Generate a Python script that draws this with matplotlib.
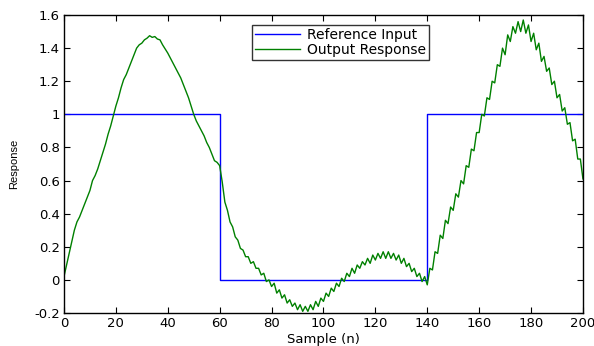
import numpy as np
import matplotlib
matplotlib.use("Agg")
import matplotlib.pyplot as plt

# =========================
# data
# =========================
samples = np.arange(0, 201)

# reference input: square pulse, 1 / 0 / 1
step_x = [0, 60, 60, 140, 140, 200]
step_y = [1, 1, 0, 0, 1, 1]

# output response, one value per sample n = 0..200
response = [
    0.02, 0.09, 0.16, 0.23, 0.30, 0.35, 0.38, 0.42, 0.46, 0.50,   # 0-9
    0.54, 0.60, 0.63, 0.67, 0.72, 0.77, 0.82, 0.88, 0.93, 0.99,   # 10-19
    1.05, 1.10, 1.16, 1.21, 1.24, 1.28, 1.32, 1.36, 1.40, 1.42,   # 20-29
    1.43, 1.45, 1.46, 1.475, 1.465, 1.47, 1.455, 1.45, 1.42, 1.395,  # 30-39
    1.37, 1.34, 1.31, 1.28, 1.25, 1.22, 1.18, 1.14, 1.10, 1.05,   # 40-49
    1.00, 0.96, 0.93, 0.90, 0.87, 0.83, 0.80, 0.76, 0.72, 0.71,   # 50-59
    0.69, 0.59, 0.47, 0.42, 0.35, 0.32, 0.26, 0.24, 0.19, 0.18,   # 60-69
    0.14, 0.14, 0.10, 0.11, 0.07, 0.07, 0.03, 0.04, -0.01, 0.00,  # 70-79
    -0.04, -0.02, -0.08, -0.06, -0.11, -0.09, -0.14, -0.12, -0.16, -0.14,  # 80-89
    -0.18, -0.15, -0.19, -0.16, -0.19, -0.15, -0.18, -0.13, -0.16, -0.11,  # 90-99
    -0.13, -0.08, -0.10, -0.05, -0.07, -0.02, -0.04, 0.01, -0.01, 0.04,   # 100-109
    0.02, 0.07, 0.04, 0.09, 0.07, 0.11, 0.09, 0.13, 0.10, 0.15,   # 110-119
    0.12, 0.16, 0.13, 0.17, 0.13, 0.17, 0.13, 0.16, 0.12, 0.15,   # 120-129
    0.10, 0.13, 0.08, 0.10, 0.05, 0.07, 0.02, 0.04, -0.01, 0.02,  # 130-139
    -0.03, 0.07, 0.06, 0.17, 0.16, 0.27, 0.25, 0.36, 0.34, 0.44,  # 140-149
    0.42, 0.52, 0.50, 0.60, 0.58, 0.69, 0.68, 0.79, 0.78, 0.89,   # 150-159
    0.89, 1.00, 0.99, 1.10, 1.09, 1.20, 1.19, 1.30, 1.29, 1.40,   # 160-169
    1.36, 1.48, 1.44, 1.53, 1.49, 1.56, 1.50, 1.57, 1.49, 1.54,   # 170-179
    1.44, 1.49, 1.39, 1.43, 1.32, 1.35, 1.26, 1.28, 1.18, 1.20,   # 180-189
    1.10, 1.12, 1.02, 1.04, 0.94, 0.95, 0.84, 0.85, 0.73, 0.73,   # 190-199
    0.61,                                                          # 200
]

x_ticks = [0, 20, 40, 60, 80, 100, 120, 140, 160, 180, 200]
y_ticks = [-0.2, 0, 0.2, 0.4, 0.6, 0.8, 1, 1.2, 1.4, 1.6]
y_tick_labels = ["-0.2", "0", "0.2", "0.4", "0.6", "0.8", "1", "1.2", "1.4", "1.6"]

# the reference text is wide, DejaVu Sans comes closest
plt.rcParams["font.family"] = ["DejaVu Sans"]

fig = plt.figure(figsize=(5.94, 3.46), dpi=100)
ax = fig.add_axes([0.1077, 0.0954, 0.8737, 0.8612])

ax.plot(step_x, step_y, color="#0000ff", linewidth=1.0, label="Reference Input")
ax.plot(samples, response, color="#008000", linewidth=1.0, label="Output Response")

ax.set_xlim(0, 200)
ax.set_ylim(-0.2, 1.6)
ax.set_xticks(x_ticks)
ax.set_xticklabels([str(t) for t in x_ticks])
ax.set_yticks(y_ticks)
ax.set_yticklabels(y_tick_labels)
ax.tick_params(direction="in", length=4, width=0.8, top=True, right=True,
               labelsize=9.5, pad=3)
for spine in ax.spines.values():
    spine.set_linewidth(1.0)

ax.set_xlabel("Sample (n)", fontsize=9.5, labelpad=2)
# vertical label is not stretched in the reference
ax.set_ylabel("Response", fontsize=8, family="Liberation Sans", labelpad=11)

leg = ax.legend(loc="upper left", bbox_to_anchor=(0.362, 0.968), fontsize=10,
                frameon=True, fancybox=False, handlelength=3.2, handletextpad=0.5,
                borderpad=0.25, labelspacing=0.05, borderaxespad=0)
leg.get_frame().set_edgecolor("black")
leg.get_frame().set_linewidth(1.0)

fig.savefig("out.png", dpi=100)
